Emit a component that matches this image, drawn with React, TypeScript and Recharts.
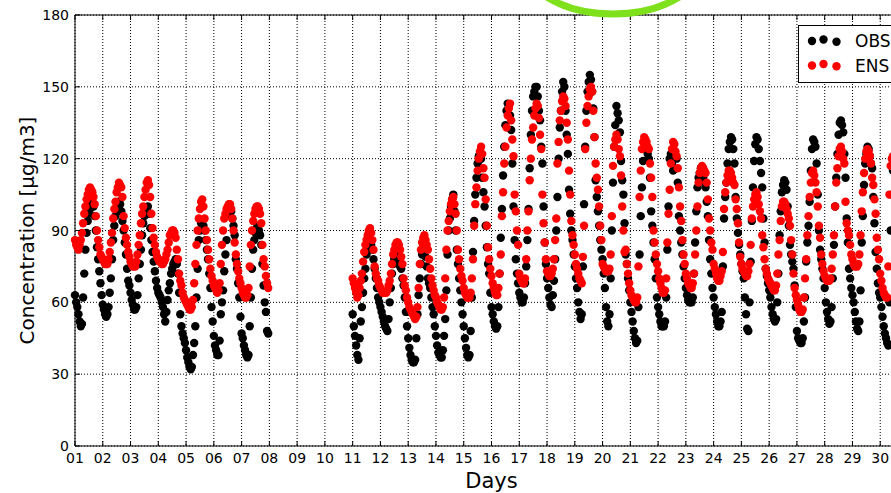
import React from 'react';
import { ScatterChart, Scatter, XAxis, YAxis, CartesianGrid, ReferenceLine, Legend } from 'recharts';

const dayTicks = [1, 2, 3, 4, 5, 6, 7, 8, 9, 10, 11, 12, 13, 14, 15, 16, 17, 18, 19, 20, 21, 22, 23, 24, 25, 26, 27, 28, 29, 30];
const dayLabels = ['01', '02', '03', '04', '05', '06', '07', '08', '09', '10', '11', '12', '13', '14', '15', '16', '17', '18', '19', '20', '21', '22', '23', '24', '25', '26', '27', '28', '29', '30'];
const yTicks = [0, 30, 60, 90, 120, 150, 180];
const seriesNames = ['OBS', 'ENS'];
const seriesColors = ['#000000', '#ff0000'];

// Hourly observed concentration, one row per day (empty row = no data)
const obsHourly: number[][] = [
  [63, 60, 58, 55, 52, 50, 51, 62, 72, 82, 89, 94, 97, 99, 101, 102, 100, 96, 90, 83, 78, 73, 68, 63],
  [59, 57, 55, 54, 55, 58, 64, 70, 78, 86, 92, 96, 99, 101, 102, 101, 98, 94, 90, 85, 80, 74, 69, 67],
  [64, 61, 59, 57, 57, 58, 63, 70, 76, 82, 88, 93, 96, 98, 99, 100, 97, 91, 86, 81, 77, 73, 69, 66],
  [64, 63, 62, 60, 58, 55, 52, 56, 61, 65, 68, 72, 74, 76, 77, 78, 76, 72, 64, 55, 50, 47, 45, 43],
  [40, 37, 35, 33, 32, 33, 38, 43, 50, 62, 74, 86, 90, 93, 94, 92, 90, 86, 82, 78, 72, 66, 58, 52],
  [46, 42, 40, 38, 38, 44, 55, 60, 65, 73, 80, 86, 97, 99, 100, 98, 95, 92, 88, 78, 74, 68, 62, 54],
  [47, 45, 42, 40, 38, 37, 38, 50, 62, 74, 82, 86, 89, 91, 92, 90, 88, 84, 76, 67, 60, 56, 48, 47],
  [],
  [],
  [],
  [55, 50, 46, 42, 38, 36, 45, 52, 58, 64, 70, 74, 80, 83, 85, 85, 84, 82, 78, 74, 70, 66, 62, 60],
  [58, 56, 54, 52, 50, 49, 48, 53, 60, 66, 72, 76, 78, 79, 80, 79, 77, 75, 74, 70, 67, 62, 56, 50],
  [45, 41, 38, 36, 35, 35, 36, 45, 55, 63, 70, 76, 80, 83, 82, 79, 75, 70, 68, 66, 62, 58, 55, 50],
  [46, 42, 39, 38, 37, 37, 40, 46, 53, 65, 80, 90, 95, 100, 103, 105, 98, 90, 82, 76, 70, 65, 60, 55],
  [50, 45, 41, 38, 37, 38, 48, 62, 81, 94, 105, 112, 118, 121, 122, 120, 112, 106, 100, 92, 83, 76, 72, 64],
  [58, 55, 52, 50, 49, 50, 58, 72, 87, 99, 113, 125, 134, 140, 143, 142, 138, 132, 118, 100, 86, 78, 72, 68],
  [64, 62, 60, 60, 62, 68, 75, 86, 99, 116, 130, 140, 146, 148, 150, 150, 146, 140, 136, 125, 118, 100, 85, 76],
  [70, 66, 62, 59, 58, 63, 69, 78, 90, 104, 120, 133, 140, 148, 152, 150, 140, 130, 122, 107, 97, 90, 86, 80],
  [75, 70, 66, 60, 56, 53, 55, 75, 101, 125, 140, 148, 152, 155, 153, 148, 141, 129, 111, 104, 98, 92, 86, 82],
  [78, 72, 66, 58, 52, 50, 55, 70, 90, 110, 125, 134, 142, 139, 136, 131, 119, 111, 105, 93, 80, 76, 70, 65],
  [60, 56, 52, 48, 45, 43, 44, 58, 80, 96, 108, 119, 124, 127, 125, 122, 120, 112, 98, 92, 85, 78, 70, 62],
  [58, 55, 52, 50, 50, 50, 52, 62, 82, 100, 120, 122, 118, 115, 120, 121, 120, 110, 96, 90, 85, 80, 75, 70],
  [66, 63, 61, 60, 60, 60, 62, 72, 85, 98, 108, 112, 114, 116, 115, 112, 110, 108, 102, 96, 86, 78, 72, 66],
  [62, 58, 55, 52, 50, 50, 52, 56, 75, 95, 104, 110, 118, 124, 127, 129, 128, 124, 118, 104, 95, 89, 84, 80],
  [76, 73, 70, 62, 55, 49, 48, 60, 77, 94, 108, 119, 126, 129, 128, 124, 119, 114, 108, 95, 85, 74, 71, 68],
  [65, 62, 58, 55, 53, 52, 53, 60, 72, 88, 98, 106, 109, 111, 110, 107, 100, 92, 84, 80, 77, 74, 67, 58],
  [48, 45, 44, 43, 43, 45, 52, 62, 77, 85, 92, 102, 115, 124, 128, 127, 125, 118, 105, 90, 82, 78, 74, 70],
  [66, 60, 56, 53, 51, 52, 58, 70, 84, 100, 112, 122, 130, 135, 136, 134, 131, 122, 112, 95, 85, 74, 70, 66],
  [63, 60, 56, 52, 49, 48, 52, 65, 85, 96, 109, 118, 122, 125, 124, 121, 118, 116, 104, 93, 81, 74, 68, 64],
  [62, 58, 54, 50, 47, 45, 43, 42, 60, 90, 105, 115, 118, 120, 118, 115, 110, 100, 92, 85, 78, 72, 68, 64],
];

// Hourly ensemble forecast, one row per day (empty row = no data)
const ensHourly: number[][] = [
  [86, 84, 83, 82, 84, 86, 89, 93, 97, 100, 103, 105, 107, 108, 107, 106, 104, 101, 96, 90, 86, 83, 80, 79],
  [78, 77, 76, 76, 76, 78, 81, 85, 89, 95, 99, 102, 106, 108, 110, 109, 108, 104, 96, 91, 87, 84, 81, 79],
  [77, 76, 75, 75, 75, 77, 80, 84, 88, 93, 97, 100, 104, 107, 110, 111, 109, 104, 97, 91, 87, 84, 81, 79],
  [78, 77, 77, 76, 76, 77, 78, 80, 82, 85, 88, 89, 90, 90, 89, 87, 82, 78, 72, 69, 67, 64, 62, 61],
  [60, 59, 58, 57, 57, 58, 61, 68, 76, 84, 90, 95, 99, 102, 103, 100, 95, 90, 86, 82, 78, 74, 71, 69],
  [67, 66, 65, 64, 65, 68, 76, 84, 90, 95, 97, 99, 100, 101, 101, 99, 95, 90, 85, 80, 76, 73, 70, 68],
  [66, 64, 63, 62, 62, 63, 66, 75, 84, 90, 94, 97, 99, 100, 100, 99, 97, 93, 84, 78, 75, 71, 68, 66],
  [],
  [],
  [],
  [70, 68, 66, 64, 62, 63, 66, 69, 72, 77, 81, 84, 86, 88, 90, 91, 89, 86, 82, 75, 72, 70, 69, 67],
  [66, 65, 64, 64, 64, 64, 65, 67, 69, 72, 76, 80, 82, 84, 85, 85, 84, 82, 79, 76, 70, 67, 65, 62],
  [60, 58, 57, 56, 55, 54, 53, 54, 58, 66, 76, 82, 85, 87, 88, 86, 84, 82, 78, 74, 70, 67, 65, 63],
  [62, 60, 59, 58, 57, 57, 58, 62, 70, 82, 90, 94, 98, 101, 103, 104, 101, 97, 90, 82, 78, 74, 71, 69],
  [66, 64, 63, 62, 62, 62, 64, 70, 78, 92, 101, 108, 115, 120, 123, 125, 122, 116, 112, 103, 92, 83, 78, 74],
  [71, 68, 66, 64, 63, 63, 66, 72, 80, 96, 106, 118, 125, 133, 138, 141, 143, 136, 128, 121, 105, 98, 90, 84],
  [72, 70, 69, 68, 68, 70, 78, 90, 98, 111, 120, 128, 133, 138, 141, 143, 142, 137, 130, 124, 105, 93, 85, 78],
  [73, 72, 71, 71, 72, 74, 78, 86, 95, 118, 127, 136, 140, 144, 146, 145, 142, 135, 128, 115, 105, 94, 88, 84],
  [80, 76, 74, 72, 70, 69, 68, 79, 92, 124, 135, 142, 146, 149, 150, 148, 140, 129, 118, 112, 107, 100, 92, 86],
  [76, 75, 74, 73, 73, 73, 74, 80, 96, 117, 125, 128, 130, 128, 124, 121, 113, 100, 90, 81, 82, 76, 72, 68],
  [65, 63, 62, 61, 60, 60, 62, 75, 104, 115, 124, 127, 129, 128, 127, 125, 124, 118, 112, 104, 90, 85, 80, 76],
  [73, 70, 68, 66, 64, 64, 65, 70, 85, 97, 107, 118, 124, 127, 126, 123, 121, 116, 108, 100, 94, 86, 80, 76],
  [72, 70, 68, 67, 66, 66, 68, 72, 80, 90, 100, 110, 114, 116, 117, 116, 115, 114, 110, 103, 95, 90, 85, 82],
  [76, 74, 72, 70, 69, 69, 71, 73, 81, 99, 106, 110, 113, 115, 115, 114, 112, 110, 109, 103, 99, 93, 85, 79],
  [76, 74, 73, 72, 71, 71, 73, 76, 84, 95, 100, 103, 105, 106, 104, 101, 98, 95, 88, 83, 78, 74, 72, 70],
  [69, 68, 67, 66, 65, 65, 67, 72, 80, 86, 94, 100, 102, 102, 101, 99, 97, 95, 92, 86, 80, 72, 66, 63],
  [61, 59, 57, 56, 56, 57, 62, 70, 78, 88, 96, 104, 110, 114, 115, 113, 110, 106, 100, 92, 87, 80, 76, 73],
  [71, 70, 69, 69, 69, 70, 74, 80, 88, 100, 110, 116, 121, 124, 125, 123, 120, 118, 102, 93, 90, 88, 84, 80],
  [78, 76, 75, 75, 75, 76, 80, 88, 98, 106, 114, 120, 123, 124, 123, 121, 118, 112, 109, 103, 97, 87, 82, 78],
  [72, 69, 66, 64, 63, 62, 62, 75, 105, 117, 120, 121, 120, 118, 115, 112, 108, 102, 95, 88, 82, 78, 74, 72],
];

type Pt = { day: number; value: number };
function toPoints(rows: number[][]): Pt[] {
  const pts: Pt[] = [];
  rows.forEach((row, d) => {
    row.forEach((v, h) => {
      pts.push({ day: dayTicks[d] + h / 24, value: v });
    });
  });
  return pts;
}

const obsPoints = toPoints(obsHourly);
const ensPoints = toPoints(ensHourly);

const FONT = 'DejaVu Sans';

const makeDot = (color: string) => (props: any) => {
  if (props.cx == null || props.cy == null) return <g />;
  return <circle cx={props.cx} cy={props.cy} r={4.2} fill={color} />;
};

const XTick = (props: any) => {
  const { x, payload } = props;
  const idx = dayTicks.indexOf(payload.value);
  return (
    <g>
      <line x1={x} x2={x} y1={446} y2={441} stroke="#000" strokeWidth={1} />
      <line x1={x} x2={x} y1={15} y2={20} stroke="#000" strokeWidth={1} />
      <text x={x} y={463} textAnchor="middle" fontSize={14} fontFamily={FONT} fill="#000">
        {dayLabels[idx]}
      </text>
    </g>
  );
};

const YTick = (props: any) => {
  const { y, payload } = props;
  return (
    <g>
      <line x1={75} x2={80} y1={y} y2={y} stroke="#000" strokeWidth={1} />
      <text x={69} y={y + 5} textAnchor="end" fontSize={14} fontFamily={FONT} fill="#000">
        {payload.value}
      </text>
    </g>
  );
};

const LegendBox = () => {
  const dx = [14, 25.5, 38.5];
  const dy = [0, -1.5, 0.8];
  const rows = [16, 40.5];
  return (
    <svg width={120} height={58} style={{ display: 'block' }}>
      <rect x={0.5} y={0.5} width={119} height={57} fill="#fff" stroke="#000" strokeWidth={1} />
      {seriesNames.map((name, i) => (
        <g key={name}>
          {dx.map((x, k) => (
            <circle key={k} cx={x} cy={rows[i] + dy[k]} r={4.2} fill={seriesColors[i]} />
          ))}
          <text x={57} y={rows[i] + 6} fontSize={17} fontFamily={FONT} fill="#000">
            {name}
          </text>
        </g>
      ))}
    </svg>
  );
};

export default function App() {
  return (
    <div
      style={{
        position: 'fixed',
        left: 0,
        top: 0,
        width: 891,
        height: 493,
        overflow: 'hidden',
        background: '#fff',
        fontFamily: FONT,
      }}
    >
      <ScatterChart width={908} height={493} margin={{ top: 15, right: 0, bottom: 0, left: 0 }}>
        <CartesianGrid stroke="#000" strokeDasharray="1 2" strokeWidth={1} />
        <XAxis
          type="number"
          dataKey="day"
          domain={[1, 31]}
          ticks={dayTicks}
          interval={0}
          height={47}
          tick={XTick}
          tickLine={false}
          axisLine={{ stroke: '#000', strokeWidth: 1 }}
          label={{ value: 'Days', position: 'insideBottom', offset: 5, fontSize: 21, fill: '#000', fontFamily: FONT }}
        />
        <YAxis
          type="number"
          dataKey="value"
          domain={[0, 180]}
          ticks={yTicks}
          width={75}
          tick={YTick}
          tickLine={false}
          axisLine={{ stroke: '#000', strokeWidth: 1 }}
          label={{
            value: 'Concentration [μg/m3]',
            angle: -90,
            position: 'insideLeft',
            offset: 27,
            fontSize: 20,
            fill: '#000',
            fontFamily: FONT,
            style: { textAnchor: 'middle' },
          }}
        />
        <ReferenceLine y={180} stroke="#000" strokeWidth={1} />
        <Scatter
          name={seriesNames[0]}
          data={obsPoints}
          fill={seriesColors[0]}
          shape={makeDot(seriesColors[0])}
          isAnimationActive={false}
        />
        <Scatter
          name={seriesNames[1]}
          data={ensPoints}
          fill={seriesColors[1]}
          shape={makeDot(seriesColors[1])}
          isAnimationActive={false}
        />
        <Legend
          layout="horizontal"
          verticalAlign="middle"
          align="center"
          wrapperStyle={{ position: 'absolute', left: 798, top: 25, width: 120, height: 58 }}
          content={() => <LegendBox />}
        />
      </ScatterChart>
      <svg
        width={891}
        height={493}
        style={{ position: 'absolute', left: 0, top: 0, pointerEvents: 'none' }}
      >
        <ellipse cx={613} cy={-46} rx={95} ry={60} fill="none" stroke="#7fe01c" strokeWidth={7} />
      </svg>
    </div>
  );
}
